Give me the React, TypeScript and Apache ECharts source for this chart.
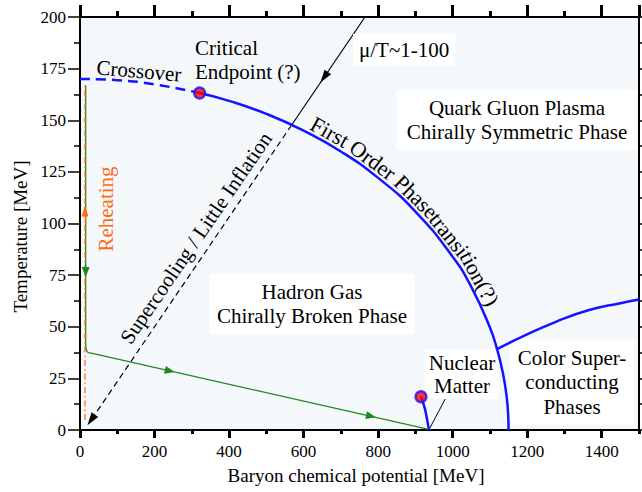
import React, { useEffect, useRef } from 'react';
import * as echarts from 'echarts';

const FONT = '"Liberation Serif", "Times New Roman", Times, serif';

// Axes
const muMin = 0;
const muMax = 1500;
const muMajor = 200;
const muMinor = 100;
const tMin = 0;
const tMax = 200;
const tMajor = 25;

// Crossover (dashed) from mu = 0 to the critical endpoint
const crossoverMu = [0, 100, 200, 321];
const crossoverT = [170, 169.4, 167.4, 163.2];

// First order phase transition line
const firstOrderMu = [321, 400, 500, 600, 700, 800, 900, 1000, 1050, 1100, 1119, 1135, 1145, 1149, 1150];
const firstOrderT = [163.2, 159.4, 153.1, 145.0, 134.9, 122.1, 105.8, 83.9, 69.3, 49.6, 39.2, 27.4, 15.9, 7.1, 0];

// Colour superconducting boundary
const cscMu = [1119, 1187, 1277, 1366, 1450, 1500];
const cscT = [39.2, 45.2, 52.4, 58.1, 61.4, 63.2];

// Nuclear matter liquid-gas line
const nuclearMu = [915, 924, 930, 935, 937];
const nuclearT = [16.1, 11.3, 6.4, 1.5, 0];

// Pointer from "Nuclear Matter" label
const pointerMu = [939, 980];
const pointerT = [1, 15];

// Points
const criticalPoint = [321, 163.2];
const nuclearPoint = [915, 16.1];

// mu/T ~ 1-100 trajectory: solid part and dashed (supercooling) part
const solidArrowMu = [764.8, 568];
const solidArrowT = [200, 147.7];
const dashedArrowMu = [568, 30];
const dashedArrowT = [147.7, 4.85];

// Green (early-universe) trajectory
const greenMu = [15.3, 15.3, 15.6, 16.6, 18.5, 22, 30, 45, 936];
const greenT = [167, 42.5, 40.5, 39.2, 38.2, 37.5, 37.2, 36.6, 0.3];

// Orange (reheating) dash-dot line
const orangeMu = [13.4, 13.4];
const orangeT = [4.8, 167];

// Arrow heads: [fromMu, fromT, toMu, toT]
const blackArrowHeads = [
  [662, 172.6, 655, 170.8],
  [36, 6.4, 30, 4.85],
];
const greenArrowHeads = [
  [15.3, 80, 15.3, 76.5],
  [235, 28.87, 241, 28.62],
  [775, 6.89, 781, 6.65],
];
const orangeArrowHeads = [[13.4, 100, 13.4, 106]];

const BLUE = '#1414ff';
const GREEN = '#1b8a1b';
const ORANGE = '#ff6a13';

const pairs = (xs: number[], ys: number[]) => xs.map((x, i) => [x, ys[i]]);

const arrowMarks = (heads: number[][], color: string, size: number[]) => ({
  silent: true,
  animation: false,
  symbol: ['none', 'triangle'],
  label: { show: false },
  emphasis: { disabled: true },
  lineStyle: { color, width: 1.2, type: 'solid' },
  itemStyle: { color },
  data: heads.map((h) => [
    { coord: [h[0], h[1]], symbol: 'none' },
    { coord: [h[2], h[3]], symbol: 'triangle', symbolSize: size },
  ]),
});

const lineSeries = (mu: number[], t: number[], lineStyle: any, extra: any = {}) => ({
  type: 'line',
  xAxisIndex: 0,
  yAxisIndex: 0,
  data: pairs(mu, t),
  symbol: 'none',
  silent: true,
  lineStyle,
  emphasis: { disabled: true },
  ...extra,
});

// invisible series that only make the mirrored tick axes active
const anchorSeries = (xi: number) => ({
  type: 'line',
  xAxisIndex: xi,
  yAxisIndex: 1,
  data: pairs(crossoverMu, crossoverT),
  symbol: 'none',
  silent: true,
  lineStyle: { opacity: 0, width: 0 },
  z: 0,
});

const spaceLabel = { show: true, formatter: () => ' ', margin: 2, fontSize: 8 };

const xAxisBase = {
  type: 'value',
  min: muMin,
  max: muMax,
  splitLine: { show: false },
  axisLine: { show: true, onZero: false, lineStyle: { color: '#000', width: 2 } },
  axisLabel: spaceLabel,
};
const yAxisBase = {
  type: 'value',
  min: tMin,
  max: tMax,
  interval: tMajor,
  splitLine: { show: false },
  axisLine: { show: true, onZero: false, lineStyle: { color: '#000', width: 2 } },
  minorSplitLine: { show: false },
};

const option: any = {
  animation: false,
  backgroundColor: '#ffffff',
  grid: {
    left: 80,
    top: 17,
    width: 559,
    height: 413,
    show: true,
    backgroundColor: '#f5f8fb',
    borderWidth: 0,
    containLabel: false,
    outerBoundsMode: 'none',
  },
  xAxis: [
    {
      ...xAxisBase,
      position: 'bottom',
      interval: muMajor,
      name: 'Baryon chemical potential [MeV]',
      nameLocation: 'middle',
      nameGap: 36,
      nameTextStyle: { fontFamily: FONT, fontSize: 19, color: '#000', padding: [0, 7, 0, 0] },
      axisTick: { show: true, length: 8, lineStyle: { color: '#000', width: 3 } },
      axisLabel: {
        show: true,
        showMaxLabel: false,
        fontFamily: FONT,
        fontSize: 17,
        color: '#000',
        margin: 13,
        formatter: (v: number) => String(v),
      },
    },
    {
      ...xAxisBase,
      position: 'bottom',
      interval: muMinor,
      axisLine: { show: false, onZero: false },
      axisTick: { show: true, length: 4, lineStyle: { color: '#000', width: 3 } },
    },
    {
      ...xAxisBase,
      position: 'top',
      interval: muMajor,
      axisTick: { show: true, length: 12, lineStyle: { color: '#000', width: 3 } },
    },
    {
      ...xAxisBase,
      position: 'top',
      interval: muMinor,
      axisLine: { show: false, onZero: false },
      axisTick: { show: true, length: 6, lineStyle: { color: '#000', width: 3 } },
    },
  ],
  yAxis: [
    {
      ...yAxisBase,
      position: 'left',
      name: 'Temperature [MeV]',
      nameLocation: 'middle',
      nameGap: 48,
      nameTextStyle: { fontFamily: FONT, fontSize: 19, color: '#000', padding: [0, 26, 0, 0] },
      axisTick: { show: true, length: 12, lineStyle: { color: '#000', width: 1.5 } },
      minorTick: { show: true, splitNumber: 2, length: 6, lineStyle: { color: '#000', width: 1.5 } },
      axisLabel: { show: true, fontFamily: FONT, fontSize: 17, color: '#000', margin: 14, formatter: (v: number) => String(v) },
    },
    {
      ...yAxisBase,
      position: 'right',
      axisTick: { show: true, length: 12, lineStyle: { color: '#000', width: 1.5 } },
      minorTick: { show: true, splitNumber: 2, length: 6, lineStyle: { color: '#000', width: 1.5 } },
      axisLabel: spaceLabel,
    },
  ],
  series: [
    anchorSeries(1),
    anchorSeries(2),
    anchorSeries(3),
    lineSeries(greenMu, greenT, { color: GREEN, width: 1.3 }, { markLine: arrowMarks(greenArrowHeads, GREEN, [8, 10]), z: 3 }),
    lineSeries(orangeMu, orangeT, { color: ORANGE, width: 1.3, type: [6, 3, 1.5, 3] }, { markLine: arrowMarks(orangeArrowHeads, ORANGE, [7, 11]), z: 4 }),
    lineSeries(solidArrowMu, solidArrowT, { color: '#000', width: 1.2 }, { markLine: arrowMarks(blackArrowHeads.slice(0, 1), '#000', [8, 13]), z: 3 }),
    lineSeries(dashedArrowMu, dashedArrowT, { color: '#000', width: 1.2, type: [6, 4] }, { markLine: arrowMarks(blackArrowHeads.slice(1), '#000', [8, 13]), z: 3 }),
    lineSeries(pointerMu, pointerT, { color: '#000', width: 1 }, { z: 3 }),
    lineSeries(crossoverMu, crossoverT, { color: BLUE, width: 2.5, type: [10, 6] }, { smooth: true, z: 150 }),
    lineSeries(firstOrderMu, firstOrderT, { color: BLUE, width: 2.5 }, { smooth: true, z: 150 }),
    lineSeries(cscMu, cscT, { color: BLUE, width: 2.5 }, { smooth: true, z: 150 }),
    lineSeries(nuclearMu, nuclearT, { color: BLUE, width: 2.5 }, { smooth: true, z: 150 }),
    {
      type: 'scatter',
      xAxisIndex: 0,
      yAxisIndex: 0,
      silent: true,
      z: 160,
      symbol: 'circle',
      symbolSize: 11,
      itemStyle: { color: '#ff0000', borderColor: BLUE, borderWidth: 2.2 },
      data: [criticalPoint, nuclearPoint],
    },
  ],
};

const txt = (text: string, x: number, y: number, o: any = {}) => ({
  type: 'text',
  x,
  y,
  rotation: ((o.rot || 0) * Math.PI) / 180,
  silent: true,
  z: 100,
  style: {
    text,
    fill: o.color || '#000',
    fontFamily: FONT,
    fontSize: o.size || 21,
    align: o.align || 'center',
    verticalAlign: 'middle',
    textAlign: o.align || 'center',
    textVerticalAlign: 'middle',
    lineHeight: o.lh || 24,
    backgroundColor: o.bg,
    padding: o.pad,
  },
});

const staticTexts = [
  txt('Crossover', 139, 71, { rot: -5 }),
  txt('Critical\nEndpoint (?)', 195, 60, { align: 'left' }),
  txt('μ/T~1-100', 353, 50, { align: 'left', bg: '#ffffff', pad: [4, 6] }),
  txt('Quark Gluon Plasma\nChirally Symmetric Phase', 517, 120, { bg: '#ffffff', pad: [6, 10] }),
  txt('Supercooling / Little Inflation', 196, 238, { rot: 55.5 }),
  txt('Reheating', 106, 209, { rot: 90, color: ORANGE }),
  txt('Hadron Gas\nChirally Broken Phase', 312, 304, { bg: '#ffffff', pad: [6, 8] }),
  txt('Nuclear\nMatter', 462, 374, { lh: 23, bg: '#ffffff', pad: [2, 4] }),
  txt('Color Super-\nconducting\nPhases', 572, 382, { lh: 24.5, bg: '#ffffff', pad: [6, 8] }),
];

const curvedChunks: [string, boolean][] = [
  ['First', true],
  ['Order', true],
  ['Phase', false],
  ['transi', false],
  ['tion(?)', false],
];
const CURVED_SIZE = 22;

export default function App() {
  const ref = useRef<HTMLDivElement>(null);
  useEffect(() => {
    const chart = echarts.init(ref.current!, null, { renderer: 'svg' });
    chart.setOption(option);

    // Lay the "First Order Phasetransition(?)" words along the first-order line
    const P = firstOrderMu.map(
      (m, i) => chart.convertToPixel({ xAxisIndex: 0, yAxisIndex: 0 }, [m, firstOrderT[i]]) as number[]
    );
    const d = 11.5;
    const off = P.map((p, i) => {
      const a = P[Math.max(0, i - 1)];
      const b = P[Math.min(P.length - 1, i + 1)];
      const dx = b[0] - a[0];
      const dy = b[1] - a[1];
      const L = Math.hypot(dx, dy) || 1;
      return [p[0] + (dy / L) * d, p[1] - (dx / L) * d];
    });
    const cum = [0];
    for (let i = 1; i < off.length; i++) {
      cum.push(cum[i - 1] + Math.hypot(off[i][0] - off[i - 1][0], off[i][1] - off[i - 1][1]));
    }
    const at = (s: number) => {
      let i = 1;
      while (i < cum.length - 1 && cum[i] < s) i++;
      const f = (s - cum[i - 1]) / (cum[i] - cum[i - 1] || 1);
      return [off[i - 1][0] + f * (off[i][0] - off[i - 1][0]), off[i - 1][1] + f * (off[i][1] - off[i - 1][1])];
    };
    const ctx = document.createElement('canvas').getContext('2d')!;
    ctx.font = `${CURVED_SIZE}px ${FONT}`;
    const spaceW = ctx.measureText(' ').width;
    let s = cum[3] + 4;
    const curved: any[] = [];
    curvedChunks.forEach(([word, space]) => {
      const w = ctx.measureText(word).width;
      const p0 = at(s);
      const p1 = at(s + w);
      const pm = at(s + w / 2);
      const ang = (Math.atan2(p1[1] - p0[1], p1[0] - p0[0]) * 180) / Math.PI;
      curved.push(txt(word, pm[0], pm[1], { rot: -ang, size: CURVED_SIZE }));
      s += w + (space ? spaceW : 0);
    });

    chart.setOption({ graphic: [...staticTexts, ...curved] });
    return () => chart.dispose();
  }, []);
  return <div ref={ref} style={{ position: 'fixed', left: 0, top: 0, width: 642, height: 492 }} />;
}
